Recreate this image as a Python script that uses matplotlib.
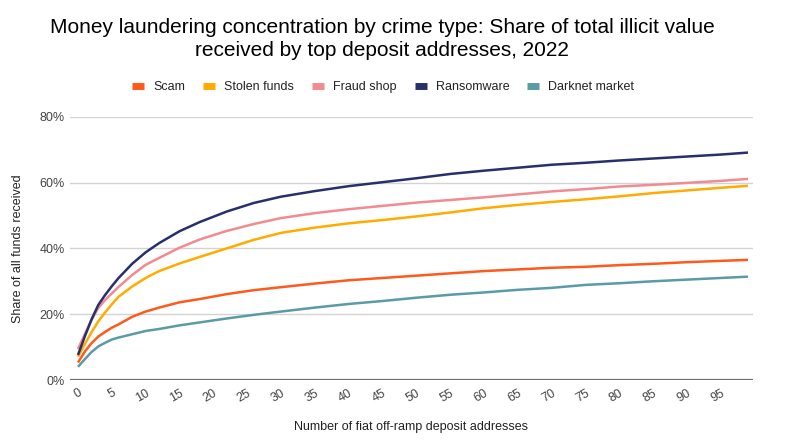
import matplotlib
matplotlib.use("Agg")
import matplotlib.pyplot as plt
from matplotlib.lines import Line2D

plt.rcParams['font.family'] = ['Liberation Sans', 'DejaVu Sans']

# ---- data ----
x_addresses = [0, 1, 2, 3, 4, 5, 6, 8, 10, 12, 15, 18, 22, 26, 30, 35, 40, 45, 50,
               55, 60, 65, 70, 75, 80, 85, 90, 95, 99]
scam = [5.3, 8.6, 11.2, 13.2, 14.6, 15.9, 16.9, 19.2, 20.8, 22.0, 23.6, 24.6, 26.1, 27.3,
        28.2, 29.3, 30.3, 31.0, 31.7, 32.4, 33.1, 33.6, 34.1, 34.4, 34.9, 35.3, 35.8, 36.2, 36.5]
stolen_funds = [7.1, 10.9, 14.5, 17.8, 20.5, 23.0, 25.3, 28.4, 31.0, 33.1, 35.4, 37.4, 40.0,
                42.6, 44.7, 46.3, 47.6, 48.6, 49.7, 50.9, 52.2, 53.2, 54.1, 54.9, 55.8, 56.8,
                57.6, 58.4, 59.0]
fraud_shop = [9.4, 13.9, 18.2, 21.9, 24.3, 26.3, 28.3, 31.9, 35.0, 37.1, 40.2, 42.7, 45.3,
              47.4, 49.2, 50.7, 51.9, 52.9, 53.9, 54.7, 55.5, 56.4, 57.3, 58.0, 58.8, 59.3,
              59.9, 60.5, 61.1]
ransomware = [7.6, 13.2, 18.4, 22.8, 25.8, 28.5, 31.0, 35.3, 38.8, 41.6, 45.2, 48.0, 51.2,
              53.8, 55.7, 57.4, 58.9, 60.1, 61.3, 62.6, 63.6, 64.5, 65.4, 66.0, 66.7, 67.3,
              67.9, 68.5, 69.1]
darknet_market = [4.0, 6.3, 8.5, 10.2, 11.3, 12.3, 12.9, 13.9, 14.9, 15.5, 16.6, 17.5, 18.7,
                  19.8, 20.8, 22.0, 23.1, 24.0, 25.0, 25.9, 26.6, 27.4, 28.0, 28.9, 29.4,
                  30.0, 30.5, 31.0, 31.4]

series_names = ["Scam", "Stolen funds", "Fraud shop", "Ransomware", "Darknet market"]
series_values = [scam, stolen_funds, fraud_shop, ransomware, darknet_market]
colors = ["#ff5a1b", "#ffab00", "#f28b90", "#27306c", "#5b9aa7"]

x_ticks = list(range(0, 100, 5))
y_ticks = [0, 20, 40, 60, 80]
y_tick_labels = ["0%", "20%", "40%", "60%", "80%"]

# ---- figure ----
fig = plt.figure(figsize=(8, 4.48), dpi=100)
ax = fig.add_axes([70 / 800, 1 - 380 / 448, (753 - 70) / 800, (380 - 116.7) / 448])

for name, vals, c in zip(series_names, series_values, colors):
    ax.plot(x_addresses, vals, color=c, linewidth=1.8, solid_capstyle='butt', zorder=3)

ax.set_xlim(-1.18, 99.74)
ax.set_ylim(0, 80)
ax.set_yticks(y_ticks)
ax.set_yticklabels(y_tick_labels)
ax.set_xticks(x_ticks)
ax.set_xticklabels([str(t) for t in x_ticks], rotation=30, ha='right',
                   rotation_mode='anchor')

for s in ['top', 'right', 'left', 'bottom']:
    ax.spines[s].set_visible(False)
ax.grid(axis='y', color='#d3d3d3', linewidth=1.0, zorder=0)
ax.axhline(0, color='#707070', linewidth=1.6, zorder=4)
ax.tick_params(axis='both', length=0, labelsize=9, labelcolor='#444444')
ax.tick_params(axis='y', pad=4)
ax.tick_params(axis='x', pad=5)

ax.set_xlabel("Number of fiat off-ramp deposit addresses", fontsize=9, color='#222222',
              labelpad=12)
ax.set_ylabel("Share of all funds received", fontsize=9, color='#222222', labelpad=11)

fig.text(0.4775, 0.913,
         "Money laundering concentration by crime type: Share of total illicit value\n"
         "received by top deposit addresses, 2022",
         ha='center', va='center', fontsize=15, color='#000000', linespacing=1.25)

handles = [Line2D([0], [0], color=c, linewidth=5, solid_capstyle='butt') for c in colors]
fig.legend(handles, series_names, loc='center', bbox_to_anchor=(0.479, 1 - 87 / 448),
           ncol=5, frameon=False, fontsize=9, handlelength=0.96, handletextpad=0.72,
           columnspacing=1.44, labelcolor='#222222')

fig.savefig("out.png", dpi=100)
